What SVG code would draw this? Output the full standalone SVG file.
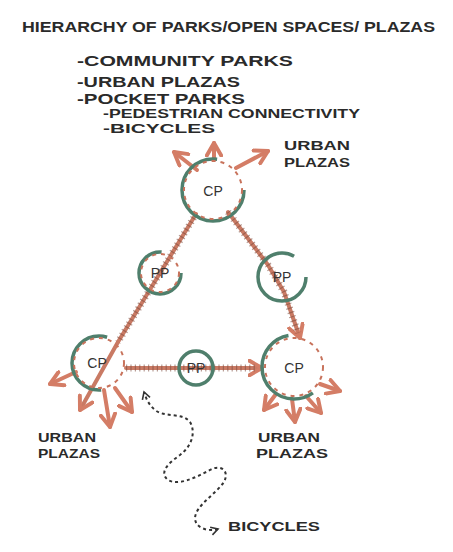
<svg xmlns="http://www.w3.org/2000/svg" width="453" height="552" viewBox="0 0 453 552">
<defs>
<style>
.t{font-family:"Liberation Sans Narrow","Liberation Sans",Arial,sans-serif;font-weight:bold;fill:#2a2a2a;}
.ring{fill:none;stroke:#4f7f6c;stroke-width:3.5;}
.ringr{fill:none;stroke:#c8735c;stroke-width:2;stroke-dasharray:4 5;}
.lab{font-family:"Liberation Sans",Arial,sans-serif;font-size:14px;fill:#333;}
.conn{stroke:#c97a64;stroke-width:4;fill:none;stroke-linecap:round;stroke-linejoin:round;}
.hatch{stroke:#7c4a3c;stroke-width:7;fill:none;stroke-dasharray:1.2 3.2;opacity:0.55;}
.arr{stroke:#d47d66;stroke-width:4;fill:none;stroke-linecap:round;}
.bike{stroke:#333;stroke-width:2;fill:none;stroke-dasharray:3 3;}
</style>
<marker id="ah" viewBox="0 0 10 10" refX="8" refY="5" markerWidth="4.5" markerHeight="4.5" orient="auto" markerUnits="strokeWidth">
<path d="M1,1 L8,5 L1,9" fill="none" stroke="#d47d66" stroke-width="2.2" stroke-linecap="round" stroke-linejoin="round"/>
</marker>
<marker id="bh" viewBox="0 0 10 10" refX="8" refY="5" markerWidth="5" markerHeight="5" orient="auto-start-reverse" markerUnits="strokeWidth">
<path d="M1,1 L8,5 L1,9" fill="none" stroke="#333" stroke-width="1.6"/>
</marker>
</defs>
<rect width="453" height="552" fill="#ffffff"/>

<g id="texts">
<text class="t" x="22" y="32" font-size="14" textLength="413" lengthAdjust="spacingAndGlyphs">HIERARCHY OF PARKS/OPEN SPACES/ PLAZAS</text>
<text class="t" x="77" y="66" font-size="15" textLength="216" lengthAdjust="spacingAndGlyphs">-COMMUNITY  PARKS</text>
<text class="t" x="77" y="87" font-size="15" textLength="163" lengthAdjust="spacingAndGlyphs">-URBAN  PLAZAS</text>
<text class="t" x="77" y="104" font-size="15" textLength="168" lengthAdjust="spacingAndGlyphs">-POCKET  PARKS</text>
<text class="t" x="103" y="118" font-size="12" textLength="257" lengthAdjust="spacingAndGlyphs">-PEDESTRIAN  CONNECTIVITY</text>
<text class="t" x="103" y="133" font-size="13" textLength="112" lengthAdjust="spacingAndGlyphs">-BICYCLES</text>
<text class="t" x="284" y="150" font-size="13" textLength="66" lengthAdjust="spacingAndGlyphs">URBAN</text>
<text class="t" x="284" y="167" font-size="13" textLength="66" lengthAdjust="spacingAndGlyphs">PLAZAS</text>
<text class="t" x="38" y="442" font-size="12" textLength="58" lengthAdjust="spacingAndGlyphs">URBAN</text>
<text class="t" x="38" y="458" font-size="12" textLength="62" lengthAdjust="spacingAndGlyphs">PLAZAS</text>
<text class="t" x="258" y="442" font-size="12" textLength="62" lengthAdjust="spacingAndGlyphs">URBAN</text>
<text class="t" x="256" y="458" font-size="12" textLength="72" lengthAdjust="spacingAndGlyphs">PLAZAS</text>
<text class="t" x="228" y="531" font-size="12" textLength="92" lengthAdjust="spacingAndGlyphs">BICYCLES</text>
</g>

<g id="connectors">
<!-- top CP to bottom-left CP through left PP -->
<line class="conn" x1="196" y1="214" x2="118" y2="342"/>
<line class="hatch" x1="196" y1="214" x2="118" y2="342"/>
<!-- top CP to bottom-right CP through right PP -->
<polyline class="conn" points="228,212 268,265 284,292 300,338" marker-end="url(#ah)"/>
<polyline class="hatch" points="228,212 268,265 284,292 298,333"/>
<!-- bottom-left CP to bottom-right CP through middle PP -->
<line class="conn" x1="126" y1="368" x2="262" y2="368" marker-end="url(#ah)"/>
<line class="hatch" x1="126" y1="368" x2="258" y2="368"/>
<!-- line continues through bottom-left CP -->
<line class="conn" x1="118" y1="342" x2="80" y2="410" marker-end="url(#ah)"/>
<!-- top CP outward arrows -->
<line class="arr" x1="197" y1="170" x2="174" y2="152" marker-end="url(#ah)"/>
<line class="arr" x1="214" y1="160" x2="214" y2="143" marker-end="url(#ah)"/>
<line class="arr" x1="236" y1="168" x2="268" y2="151" marker-end="url(#ah)"/>
<!-- bottom-left CP outward arrows -->
<line class="arr" x1="76" y1="372" x2="50" y2="384" marker-end="url(#ah)"/>
<line class="arr" x1="104" y1="390" x2="110" y2="427" marker-end="url(#ah)"/>
<line class="arr" x1="115" y1="388" x2="132" y2="412" marker-end="url(#ah)"/>
<!-- bottom-right CP outward arrows -->
<line class="arr" x1="276" y1="394" x2="264" y2="410" marker-end="url(#ah)"/>
<line class="arr" x1="292" y1="399" x2="295" y2="422" marker-end="url(#ah)"/>
<line class="arr" x1="306" y1="396" x2="321" y2="413" marker-end="url(#ah)"/>
<line class="arr" x1="320" y1="384" x2="340" y2="391" marker-end="url(#ah)"/>
<!-- bicycle dashed path -->
<path class="bike" d="M218,529 C208,532 195,528 195,518 C196,505 215,495 224,482 C230,470 220,464 210,470 C195,478 178,486 168,480 C158,472 170,462 180,455 C192,446 196,432 190,422 C182,412 165,418 155,410 C148,404 146,398 144,392" marker-start="url(#bh)" marker-end="url(#bh)"/>
</g>

<g id="cp-top">
<circle class="ring" cx="213" cy="190" r="31" stroke-dasharray="150 45"/>
<circle class="ringr" cx="213" cy="190" r="29"/>
<text class="lab" x="213" y="196" text-anchor="middle">CP</text>
</g>
<g id="pp-left">
<circle class="ring" cx="160" cy="273" r="21" stroke-dasharray="100 32"/>
<circle class="ringr" cx="160" cy="273" r="19"/>
<text class="lab" x="160" y="278" text-anchor="middle" font-size="11">PP</text>
</g>
<g id="pp-right">
<circle class="ring" cx="282" cy="277" r="24" stroke-dasharray="125 26"/>
<text class="lab" x="282" y="282" text-anchor="middle" font-size="11">PP</text>
</g>
<g id="cp-left">
<circle class="ring" cx="99" cy="363" r="27" stroke-dasharray="0 40 95 40"/>
<circle class="ringr" cx="99" cy="363" r="25"/>
<text class="lab" x="97" y="368" text-anchor="middle">CP</text>
</g>
<g id="pp-middle">
<circle class="ring" cx="196" cy="368" r="17"/>
<text class="lab" x="196" y="373" text-anchor="middle" font-size="11">PP</text>
</g>
<g id="cp-right">
<circle class="ring" cx="294" cy="367" r="32" stroke-dasharray="0 30 115 56"/>
<circle class="ringr" cx="294" cy="367" r="29"/>
<text class="lab" x="294" y="373" text-anchor="middle">CP</text>
</g>
</svg>
